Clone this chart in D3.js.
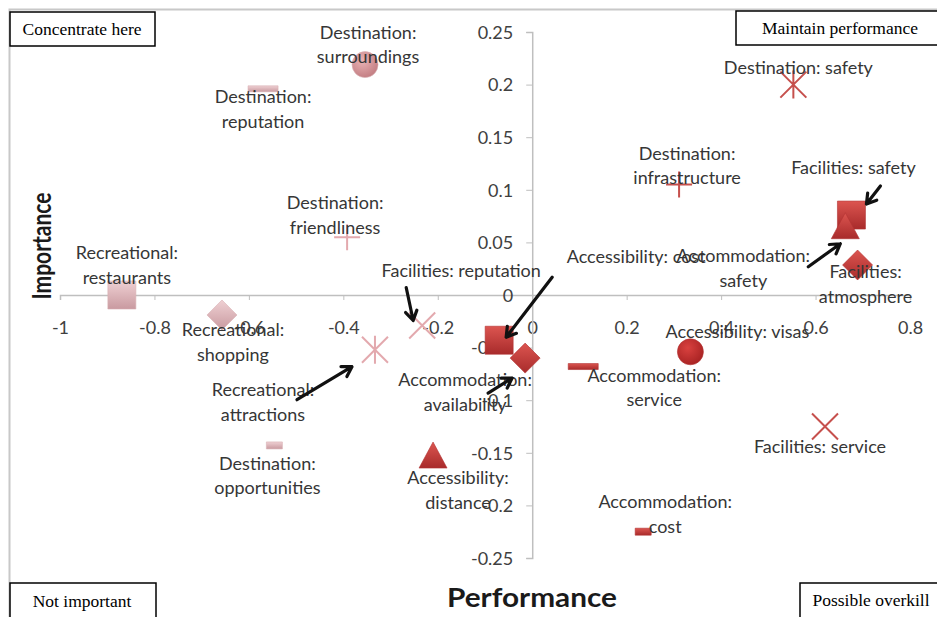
<!DOCTYPE html>
<html>
<head>
<meta charset="utf-8">
<script src="https://cdn.jsdelivr.net/npm/d3@7"></script>
<style>
	body{margin:0;background:#fff;}
	svg{display:block;}
	.lbl{font-family:Lato,"Open Sans",sans-serif;font-size:18px;fill:#363636;}
	.tick text{font-family:Lato,"Open Sans",sans-serif;font-size:18px;fill:#404040;}
	.quad{font-family:"Liberation Serif","Times New Roman",serif;font-size:17.5px;fill:#000;}
</style>
</head>
<body>
<svg id="myGraph" width="937" height="617"></svg>
<script>
// attributes, performance (x) and importance (y)
var names = [
	"Destination: surroundings","Destination: reputation","Destination: friendliness",
	"Recreational: restaurants","Recreational: shopping","Recreational: attractions",
	"Facilities: reputation","Destination: opportunities","Accessibility: distance",
	"Accessibility: cost","Accommodation: availability","Accommodation: service",
	"Accessibility: visas","Accommodation: cost","Facilities: service",
	"Destination: safety","Destination: infrastructure","Facilities: safety",
	"Accommodation: safety","Facilities: atmosphere"
];
var performance = [-0.354,-0.57,-0.392,-0.869,-0.657,-0.333,-0.233,-0.546,-0.21,-0.07,-0.015,0.108,0.335,0.235,0.62,0.553,0.311,0.676,0.663,0.689];
var importance  = [0.219,0.196,0.055,0.0,-0.019,-0.052,-0.029,-0.143,-0.155,-0.043,-0.06,-0.068,-0.054,-0.225,-0.125,0.2,0.105,0.076,0.063,0.0285];
var shapes = ["circle","dash","plus","square","diamond","asterisk","x","dashS","triangle","square","diamond","dash","circle","dashS","x","asterisk","plus","square","triangle","diamond"];
var tones  = ["light","light","light","light","light","light","light","light","dark","dark","dark","dark","dark","dark","dark","dark","dark","dark","dark","dark"];

var xTicks = [-1,-0.8,-0.6,-0.4,-0.2,0,0.2,0.4,0.6,0.8];
var yTicks = [-0.25,-0.2,-0.15,-0.1,-0.05,0,0.05,0.1,0.15,0.2,0.25];
var quadrants = ["Concentrate here","Maintain performance","Not important","Possible overkill"];

// label layout: text lines, offset of first line centre from the marker (px)
var labelLines = [
	["Destination:","surroundings"],["Destination:","reputation"],["Destination:","friendliness"],
	["Recreational:","restaurants"],["Recreational:","shopping"],["Recreational:","attractions"],
	["Facilities: reputation"],["Destination:","opportunities"],["Accessibility:","distance"],
	["Accessibility: cost"],["Accommodation:","availability"],["Accommodation:","service"],
	["Accessibility: visas"],["Accommodation:","cost"],["Facilities: service"],
	["Destination: safety"],["Destination:","infrastructure"],["Facilities: safety"],
	["Accommodation:","safety"],["Facilities:","atmosphere"]
];
var labelOffset = [[3,-32],[0,8],[-12,-34],[5,-42],[11,15],[-112,40],[39,-55],[-7,18],[25,20],[137,-84],
	[-60,22],[71,9],[47,-20],[22,-30],[-5,20],[5,-17],[8,-31],[2,-47],[-102,27],[8,7]];
// arrows: point index, start and end offsets from marker (px)
var arrows = [[5,-78,50,-23,17],[6,-16,-38,-9,-5],[9,53,-63,7,-3],[10,-37,35,-13,20],[18,-37,38,-5,15],[17,29,-29,15,-11]];

var svg = d3.select("#myGraph");
var x = d3.scaleLinear().domain([-1,0.8]).range([60,910]);
var y = d3.scaleLinear().domain([-0.25,0.25]).range([558,32]);

svg.append("rect").attr("x",9.5).attr("y",9.5).attr("width",940).attr("height",620)
	.attr("fill","#fff").attr("stroke","#c8c8c8").attr("stroke-width",2);

var defs = svg.append("defs");
function grad(id,c1,c2){
	var g = defs.append("linearGradient").attr("id",id).attr("x1",0).attr("y1",0).attr("x2",0).attr("y2",1);
	g.append("stop").attr("offset","0%").attr("stop-color",c1);
	g.append("stop").attr("offset","100%").attr("stop-color",c2);
}
grad("gLight","#efd0d3","#c99aa0");
grad("gDark","#dc5550","#a82b2b");
function rgrad(id,c1,c2){
	var g = defs.append("radialGradient").attr("id",id).attr("cx","40%").attr("cy","35%").attr("r","65%");
	g.append("stop").attr("offset","0%").attr("stop-color",c1);
	g.append("stop").attr("offset","100%").attr("stop-color",c2);
}
rgrad("rLight","#eab3b5","#c47f84");
rgrad("rDark","#d9413f","#aa2424");

// axes through the origin
var xAxis = d3.axisBottom(x).tickValues(xTicks).tickSize(5).tickFormat(d3.format("~g"));
var gx = svg.append("g").attr("transform","translate(0,"+y(0)+")").call(xAxis);
gx.select(".domain").attr("stroke","#bfbfbf").attr("stroke-width",1.5);
gx.selectAll(".tick line").attr("stroke","#bfbfbf");
gx.selectAll(".tick text").attr("y",33).attr("dy","0.35em");

var yAxis = d3.axisLeft(y).tickValues(yTicks).tickSize(6).tickFormat(d3.format("~g"));
var gy = svg.append("g").attr("transform","translate("+x(0)+",0)").call(yAxis);
gy.select(".domain").attr("stroke","#bfbfbf").attr("stroke-width",1.5);
gy.selectAll(".tick line").attr("stroke","#bfbfbf");
gy.selectAll(".tick text").attr("x",-19).attr("dy","0.35em");
svg.selectAll(".tick text").text(function(d){return d3.format("~g")(d).replace("\u2212","-");});

// markers
function markerPath(s){
	switch(s){
		case "circle": return d3.symbol().type(d3.symbolCircle).size(Math.PI*13*13)();
		case "square": return "M-14,-14H14V14H-14Z";
		case "diamond": return "M0,-15L15,0L0,15L-15,0Z";
		case "triangle": return "M0,-16L14,10H-14Z";
		case "dash": return "M-15,-3H15V3H-15Z";
		case "dashS": return "M-8,-3.5H8V3.5H-8Z";
		case "plus": return "M-13,0H13M0,-13V13";
		case "x": return "M-13,-13L13,13M13,-13L-13,13";
		case "asterisk": return "M-13,-13L13,13M13,-13L-13,13M0,-14V14";
	}
}
var stroked = {plus:1,x:1,asterisk:1};
var idx = d3.range(names.length);
svg.append("g").selectAll("path").data(idx).enter().append("path")
	.attr("transform",function(i){return "translate("+x(performance[i])+","+y(importance[i])+")";})
	.attr("d",function(i){return markerPath(shapes[i]);})
	.attr("fill",function(i){
		if(stroked[shapes[i]]) return "none";
		if(shapes[i]=="circle") return tones[i]=="light"?"url(#rLight)":"url(#rDark)";
		return tones[i]=="light"?"url(#gLight)":"url(#gDark)";
	})
	.attr("stroke",function(i){
		if(stroked[shapes[i]]) return tones[i]=="light"?"#e3a9ae":"#c6504d";
		return tones[i]=="light"?"#d8b0b4":"#b23232";
	})
	.attr("stroke-width",function(i){return stroked[shapes[i]]?2:0.6;});

// data labels
var lg = svg.append("g");
idx.forEach(function(i){
	var t = lg.append("text").attr("class","lbl").attr("text-anchor","middle")
		.attr("x",x(performance[i])+labelOffset[i][0])
		.attr("y",y(importance[i])+labelOffset[i][1]).attr("dy","0.35em");
	labelLines[i].forEach(function(l,k){
		t.append("tspan").attr("x",x(performance[i])+labelOffset[i][0])
			.attr("dy",k==0?"0.35em":"24.5px").text(l);
	});
});

// arrows
arrows.forEach(function(a){
	var px = x(performance[a[0]]), py = y(importance[a[0]]);
	var x1=px+a[1], y1=py+a[2], x2=px+a[3], y2=py+a[4];
	var ang = Math.atan2(y2-y1,x2-x1), h=11;
	svg.append("path")
		.attr("d","M"+x1+","+y1+"L"+x2+","+y2+
			"M"+(x2-h*Math.cos(ang-0.55))+","+(y2-h*Math.sin(ang-0.55))+"L"+x2+","+y2+
			"L"+(x2-h*Math.cos(ang+0.55))+","+(y2-h*Math.sin(ang+0.55)))
		.attr("fill","none").attr("stroke","#111").attr("stroke-width",3.2)
		.attr("stroke-linecap","round").attr("stroke-linejoin","round");
});

// axis titles
svg.append("text").attr("transform","translate(42,246) rotate(-90)")
	.attr("text-anchor","middle").attr("dy","0.35em")
	.style("font-family","Lato,sans-serif").style("font-weight","bold").style("font-size","27px")
	.attr("fill","#1a1a1a").attr("textLength",107).attr("lengthAdjust","spacingAndGlyphs").text("Importance");
svg.append("text").attr("x",532).attr("y",598)
	.attr("text-anchor","middle").attr("dy","0.35em")
	.style("font-family","Lato,sans-serif").style("font-weight","bold").style("font-size","26px")
	.attr("fill","#1a1a1a").attr("textLength",170).attr("lengthAdjust","spacingAndGlyphs").text("Performance");

// quadrant boxes
var boxes = [[10,12,145,34,82],[736,11,210,34,840],[10,583,146,40,82],[800,583,146,40,871]];
var boxTextY = [29,28,601,600];
boxes.forEach(function(b,i){
	svg.append("rect").attr("x",b[0]).attr("y",b[1]).attr("width",b[2]).attr("height",b[3])
		.attr("fill","#fff").attr("stroke","#000").attr("stroke-width",1.5);
	svg.append("text").attr("class","quad").attr("x",b[4]).attr("y",boxTextY[i])
		.attr("text-anchor","middle").attr("dy","0.35em").text(quadrants[i]);
});
</script>
</body>
</html>
